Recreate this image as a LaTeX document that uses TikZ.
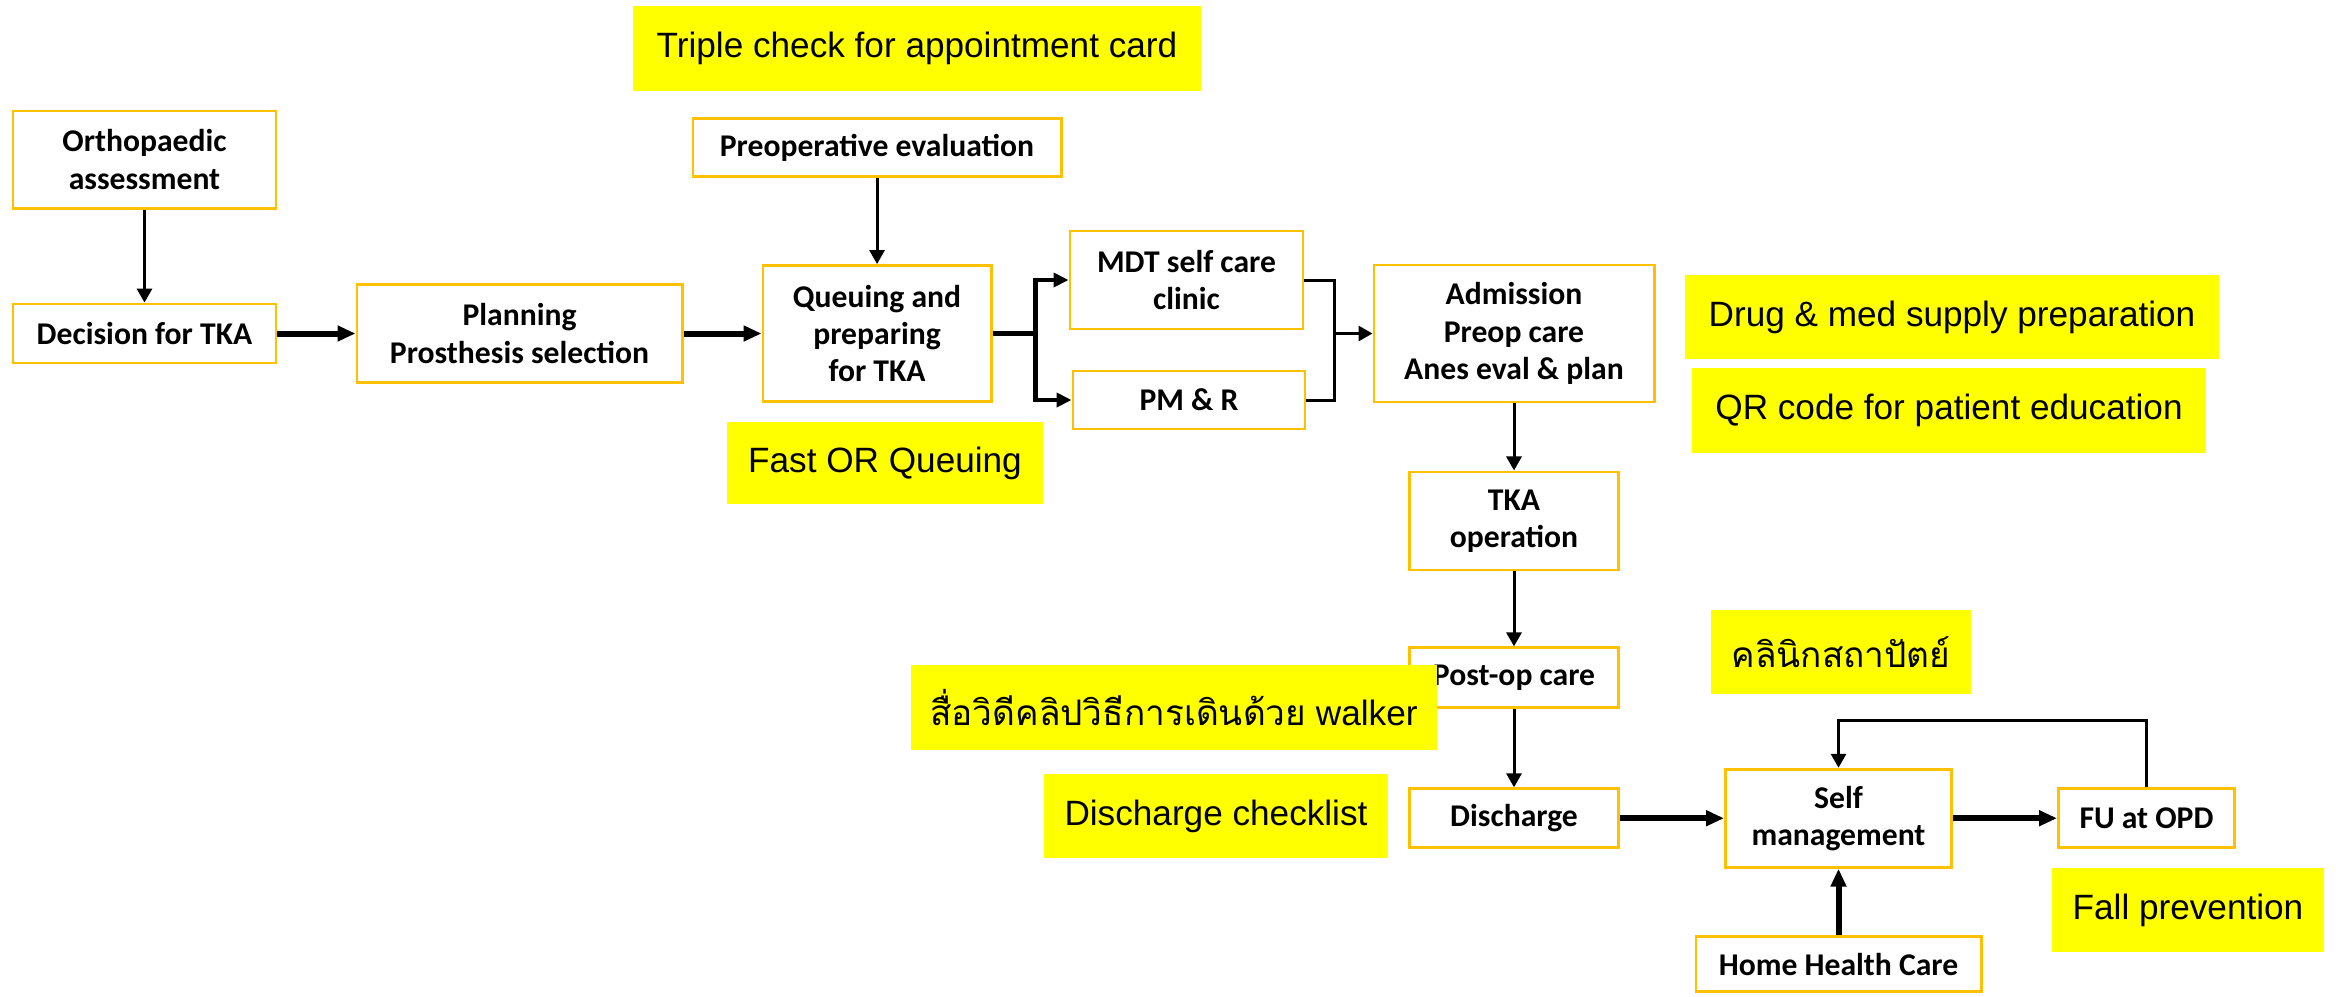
\documentclass[tikz,border=0pt]{standalone}
\usepackage{fontspec}
\setmainfont{Carlito}
\newfontfamily\notefont{Liberation Sans}
\newfontfamily\thaifont[Script=Thai]{Loma}
\usetikzlibrary{arrows.meta, positioning}
\definecolor{boxLine}{RGB}{255,192,0}
\definecolor{noteFill}{RGB}{255,255,0}

\begin{document}
\begin{tikzpicture}[
    x=0.01cm, y=-0.01cm,
    box/.style={rectangle, draw=boxLine, line width=0.8pt, fill=white, align=center, inner sep=2pt, font=\bfseries\fontsize{9}{10.6}\selectfont},
    note/.style={rectangle, fill=noteFill, align=center, inner sep=2pt, font=\notefont\fontsize{10}{12}\selectfont},
    flow/.style={-{Triangle[length=0.14cm, width=0.15cm]}, line width=0.85pt},
    midflow/.style={-{Triangle[length=0.15cm, width=0.14cm]}, line width=1.2pt},
    bigflow/.style={-{Triangle[length=0.18cm, width=0.15cm]}, line width=1.7pt}
]
\useasboundingbox (0,0) rectangle (2336,996);

\node[box, minimum width=2.63cm, minimum height=0.59cm] (decision) at (144.5,333.5) {Decision for TKA};
\node[box, minimum width=2.63cm, minimum height=0.97cm, above=0.93cm of decision] (ortho) {Orthopaedic\\assessment};
\node[box, minimum width=3.25cm, minimum height=0.98cm, right=0.78cm of decision] (plan) {Planning\\Prosthesis selection};
\node[box, minimum width=2.28cm, minimum height=1.36cm, right=0.78cm of plan] (queue) {Queuing and\\preparing\\for TKA};
\node[box, minimum width=3.68cm, minimum height=0.58cm, above=0.86cm of queue] (preop) {Preoperative evaluation};

\node[box, minimum width=2.33cm, minimum height=0.98cm] (mdt) at (1186.5,280) {MDT self care\\clinic};
\node[box, minimum width=2.32cm, minimum height=0.58cm] (pmr) at (1189,400) {PM \& R};
\node[box, minimum width=2.80cm, minimum height=1.37cm] (adm) at (1514,333.5) {Admission\\Preop care\\Anes eval \& plan};

\node[box, minimum width=2.09cm, minimum height=0.98cm, below=0.67cm of adm] (tka) {TKA\\operation};
\node[box, minimum width=2.09cm, minimum height=0.60cm, below=0.75cm of tka] (postop) {Post-op care};
\node[box, minimum width=2.09cm, minimum height=0.59cm, below=0.78cm of postop] (discharge) {Discharge};
\node[box, minimum width=2.26cm, minimum height=0.98cm, right=1.04cm of discharge] (self) {Self\\management};
\node[box, minimum width=1.76cm, minimum height=0.59cm, right=1.04cm of self] (fu) {FU at OPD};
\coordinate (homey) at (0,964);
\node[box, minimum width=2.85cm, minimum height=0.55cm] (home) at (self |- homey) {Home Health Care};

% yellow notes
\node[note, minimum width=5.68cm, minimum height=0.85cm] (triple) at (917,48.5) {Triple check for appointment card};
\node[note, minimum width=3.16cm, minimum height=0.82cm] (fastor) at (885,463) {Fast OR Queuing};
\node[note, minimum width=5.34cm, minimum height=0.84cm] (drug) at (1952,317) {Drug \& med supply preparation};
\node[note, minimum width=5.14cm, minimum height=0.85cm] (qr) at (1949,410.5) {QR code for patient education};
\node[note, minimum width=2.60cm, minimum height=0.84cm] (clinic) at (1841,652) {\thaifont คลินิกสถาปัตย์};
\node[note, minimum width=5.26cm, minimum height=0.85cm] (walker) at (1174,707.5) {{\thaifont สื่อวิดีคลิปวิธีการเดินด้วย} walker};
\node[note, minimum width=3.44cm, minimum height=0.84cm] (checklist) at (1216,816) {Discharge checklist};
\node[note, minimum width=2.72cm, minimum height=0.84cm] (fall) at (2188,910) {Fall prevention};

% connectors
\draw[flow] (ortho) -- (decision);
\draw[bigflow] (decision) -- (plan);
\draw[bigflow] (plan) -- (queue);
\draw[flow] (preop) -- (queue);

\coordinate[right=0.43cm of queue.east] (qsplit);
\draw[line width=1.2pt] (queue.east) -- (qsplit);
\draw[midflow] (qsplit) |- (mdt.west);
\draw[midflow] (qsplit) |- (pmr.west);

\coordinate[left=0.38cm of adm.west] (ajoin);
\draw[line width=0.85pt] (mdt.east) -| (ajoin);
\draw[line width=0.85pt] (pmr.east) -| (ajoin);
\draw[flow] (ajoin) -- (adm.west);

\draw[flow] (adm) -- (tka);
\draw[flow] (tka) -- (postop);
\draw[flow] (postop) -- (discharge);
\draw[bigflow] (discharge) -- (self);
\draw[bigflow] (self) -- (fu);
\draw[bigflow] (home) -- (self);

\coordinate[above=0.67cm of fu.north] (fuup);
\draw[flow] (fu.north) -- (fuup) -| (self.north);
\end{tikzpicture}
\end{document}
